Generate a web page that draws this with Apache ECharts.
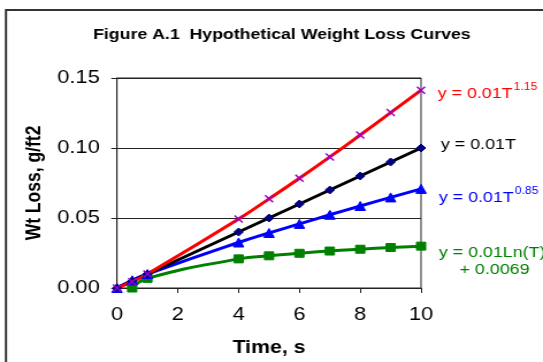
<!DOCTYPE html>
<html>
<head>
<meta charset="utf-8">
<script src="https://cdn.jsdelivr.net/npm/echarts@6/dist/echarts.min.js"></script>
<style>
  html, body { margin: 0; padding: 0; background: #fff; overflow: hidden; }
  #wrap { width: 543px; height: 362px; overflow: hidden; }
  /* the figure is laid out narrow and widened horizontally */
  #chart { width: 472px; height: 362px; transform: scaleX(1.1504); transform-origin: 0 0; }
</style>
</head>
<body>
<div id="wrap"><div id="chart"></div></div>
<script>
// Times (s) at which each curve is marked
const timesPower = [0, 0.5, 1, 4, 5, 6, 7, 8, 9, 10];
const timesLog = [0.5, 1, 4, 5, 6, 7, 8, 9, 10];

// Weight loss (g/ft2) for each model
const wtPow115 = [0, 0.0045, 0.0100, 0.0493, 0.0637, 0.0784, 0.0936, 0.1093, 0.1253, 0.1413];
const wtLinear = [0, 0.0050, 0.0100, 0.0400, 0.0500, 0.0600, 0.0700, 0.0800, 0.0900, 0.1000];
const wtPow085 = [0, 0.0055, 0.0100, 0.0325, 0.0393, 0.0458, 0.0523, 0.0586, 0.0647, 0.0708];
const wtLog = [0.0000, 0.0069, 0.0208, 0.0230, 0.0248, 0.0264, 0.0277, 0.0289, 0.0299];

const xTicks = [0, 2, 4, 6, 8, 10];
const yTicks = [0, 0.05, 0.10, 0.15];

const pair = (xs, ys) => xs.map((x, i) => [x, ys[i]]);

const FONT = 'Liberation Sans, Arial, sans-serif';

const chart = echarts.init(document.getElementById('chart'), null, { renderer: 'canvas' });

function curve(name, data, lineColor, symbol, markerColor, size) {
  return {
    name: name,
    type: 'line',
    data: data,
    smooth: true,
    symbol: symbol,
    symbolSize: size,
    showAllSymbol: true,
    lineStyle: { color: lineColor, width: 3 },
    itemStyle: { color: markerColor, borderColor: markerColor },
    z: 3
  };
}

// Cross marker for the 1.15-power curve
const crossPath = 'path://M0,0 L10,10 M10,0 L0,10';

function supLabel(main, sup, color) {
  return {
    text: '{b|' + main + '}{s|' + sup + '}',
    rich: {
      b: { fontFamily: FONT, fontSize: 15.5, fill: color, verticalAlign: 'bottom' },
      s: { fontFamily: FONT, fontSize: 10.5, fill: color, verticalAlign: 'top', padding: [0, 0, 9, 1] }
    }
  };
}

chart.setOption({
  animation: false,
  backgroundColor: '#ffffff',
  title: {
    text: 'Figure A.1  Hypothetical Weight Loss Curves',
    left: 240,
    top: 22,
    textAlign: 'center',
    textStyle: { fontFamily: FONT, fontSize: 15.4, fontWeight: 'bold', color: '#000' }
  },
  grid: {
    left: 101.7, right: 106, top: 78, bottom: 73,
    show: true, borderColor: '#222', borderWidth: 1, backgroundColor: 'transparent'
  },
  xAxis: {
    type: 'value',
    min: xTicks[0], max: xTicks[xTicks.length - 1], interval: 2,
    name: 'Time, s',
    nameLocation: 'middle',
    nameGap: 50,
    nameTextStyle: { fontFamily: FONT, fontSize: 18.5, fontWeight: 'bold', color: '#000' },
    axisLine: { show: true, lineStyle: { color: '#222', width: 1 } },
    axisTick: { show: true, length: 5, lineStyle: { color: '#222' } },
    axisLabel: { fontFamily: FONT, fontSize: 19, color: '#000', margin: 17 },
    splitLine: { show: false }
  },
  yAxis: {
    type: 'value',
    min: yTicks[0], max: yTicks[yTicks.length - 1], interval: 0.05,
    name: 'Wt Loss, g/ft2',
    nameLocation: 'middle',
    nameGap: 61,
    nameTextStyle: { fontFamily: FONT, fontSize: 17.5, fontWeight: 'bold', color: '#000' },
    axisLine: { show: true, lineStyle: { color: '#222', width: 1 } },
    axisTick: { show: true, length: 5, lineStyle: { color: '#222' } },
    axisLabel: {
      fontFamily: FONT, fontSize: 19, color: '#000', margin: 15,
      formatter: v => v.toFixed(2)
    },
    splitLine: { show: true, lineStyle: { color: '#222', width: 1 } }
  },
  series: [
    curve('log', pair(timesLog, wtLog), '#008000', 'rect', '#008000', 8),
    curve('pow085', pair(timesPower, wtPow085), '#0000ff', 'triangle', '#0000ff', 9),
    curve('linear', pair(timesPower, wtLinear), '#000000', 'diamond', '#000080', 8),
    Object.assign(curve('pow115', pair(timesPower, wtPow115), '#ff0000', crossPath, '#9900cc', 7), {
      itemStyle: { color: 'none', borderColor: '#9900cc', borderWidth: 1.5 }
    })
  ],
  graphic: [
    // outer chart frame
    {
      type: 'rect', silent: true,
      shape: { x: 5.2, y: 10, width: 500, height: 380 },
      style: { fill: 'none', stroke: '#333', lineWidth: 2 }
    },
    { type: 'text', left: 380.5, top: 82, style: supLabel('y = 0.01T', '1.15', '#ff0000') },
    {
      type: 'text', left: 383.3, top: 137,
      style: { text: 'y = 0.01T', fontFamily: FONT, fontSize: 15.5, fill: '#000' }
    },
    { type: 'text', left: 381.5, top: 186, style: supLabel('y = 0.01T', '0.85', '#0000ff') },
    {
      type: 'text', left: 381.5, top: 245,
      style: { text: 'y = 0.01Ln(T)', fontFamily: FONT, fontSize: 15.5, fill: '#008000' }
    },
    {
      type: 'text', left: 399.5, top: 262,
      style: { text: '+ 0.0069', fontFamily: FONT, fontSize: 15.5, fill: '#008000' }
    }
  ]
});
</script>
</body>
</html>
